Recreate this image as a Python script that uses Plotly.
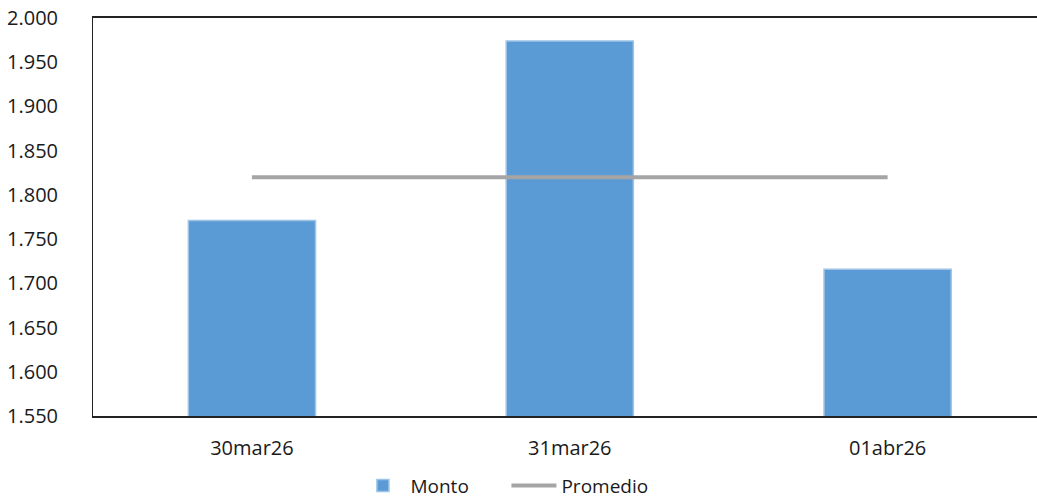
import plotly.graph_objects as go

fechas = ["30mar26", "31mar26", "01abr26"]
monto = [1771, 1974, 1716]
promedio = [1820, 1820, 1820]
y_ticks = [1550, 1600, 1650, 1700, 1750, 1800, 1850, 1900, 1950, 2000]

fig = go.Figure()
fig.add_trace(go.Bar(
    x=fechas, y=monto, name="Monto", width=0.4,
    marker=dict(color="#5B9BD5", line=dict(color="#9DC3E6", width=1.5)),
))
fig.add_trace(go.Scatter(
    x=fechas, y=promedio, name="Promedio", mode="lines",
    line=dict(color="#A5A5A5", width=4),
))

fig.update_layout(
    width=1037, height=500,
    margin=dict(l=93, r=0, t=18, b=84, autoexpand=False),
    plot_bgcolor="white", paper_bgcolor="white",
    font=dict(family="Open Sans", size=20, color="#1a1a1a"),
    separators=",.",
    showlegend=True,
    legend=dict(orientation="h", x=0.278, xanchor="left", y=-0.175, yanchor="middle",
                font=dict(size=19), traceorder="normal",
                itemwidth=45, entrywidth=91),
)
fig.update_xaxes(
    type="category", range=[-0.5, 2.47], automargin=False,
    showline=True, linecolor="#222", linewidth=1.5, mirror=True,
    showgrid=False, ticks="", ticklabelstandoff=13,
)
fig.update_yaxes(
    range=[1550, 2000], tickvals=y_ticks, tickformat=",d", automargin=False,
    showline=True, linecolor="#222", linewidth=1, showgrid=False,
    ticks="", ticklabelstandoff=30, zeroline=False, ticklabeloverflow="allow",
)

# drop the default page margin so the figure sits at the top-left corner
fig.write_html("out.html", config={"displayModeBar": False},
               post_script="document.body.style.margin='0';")
